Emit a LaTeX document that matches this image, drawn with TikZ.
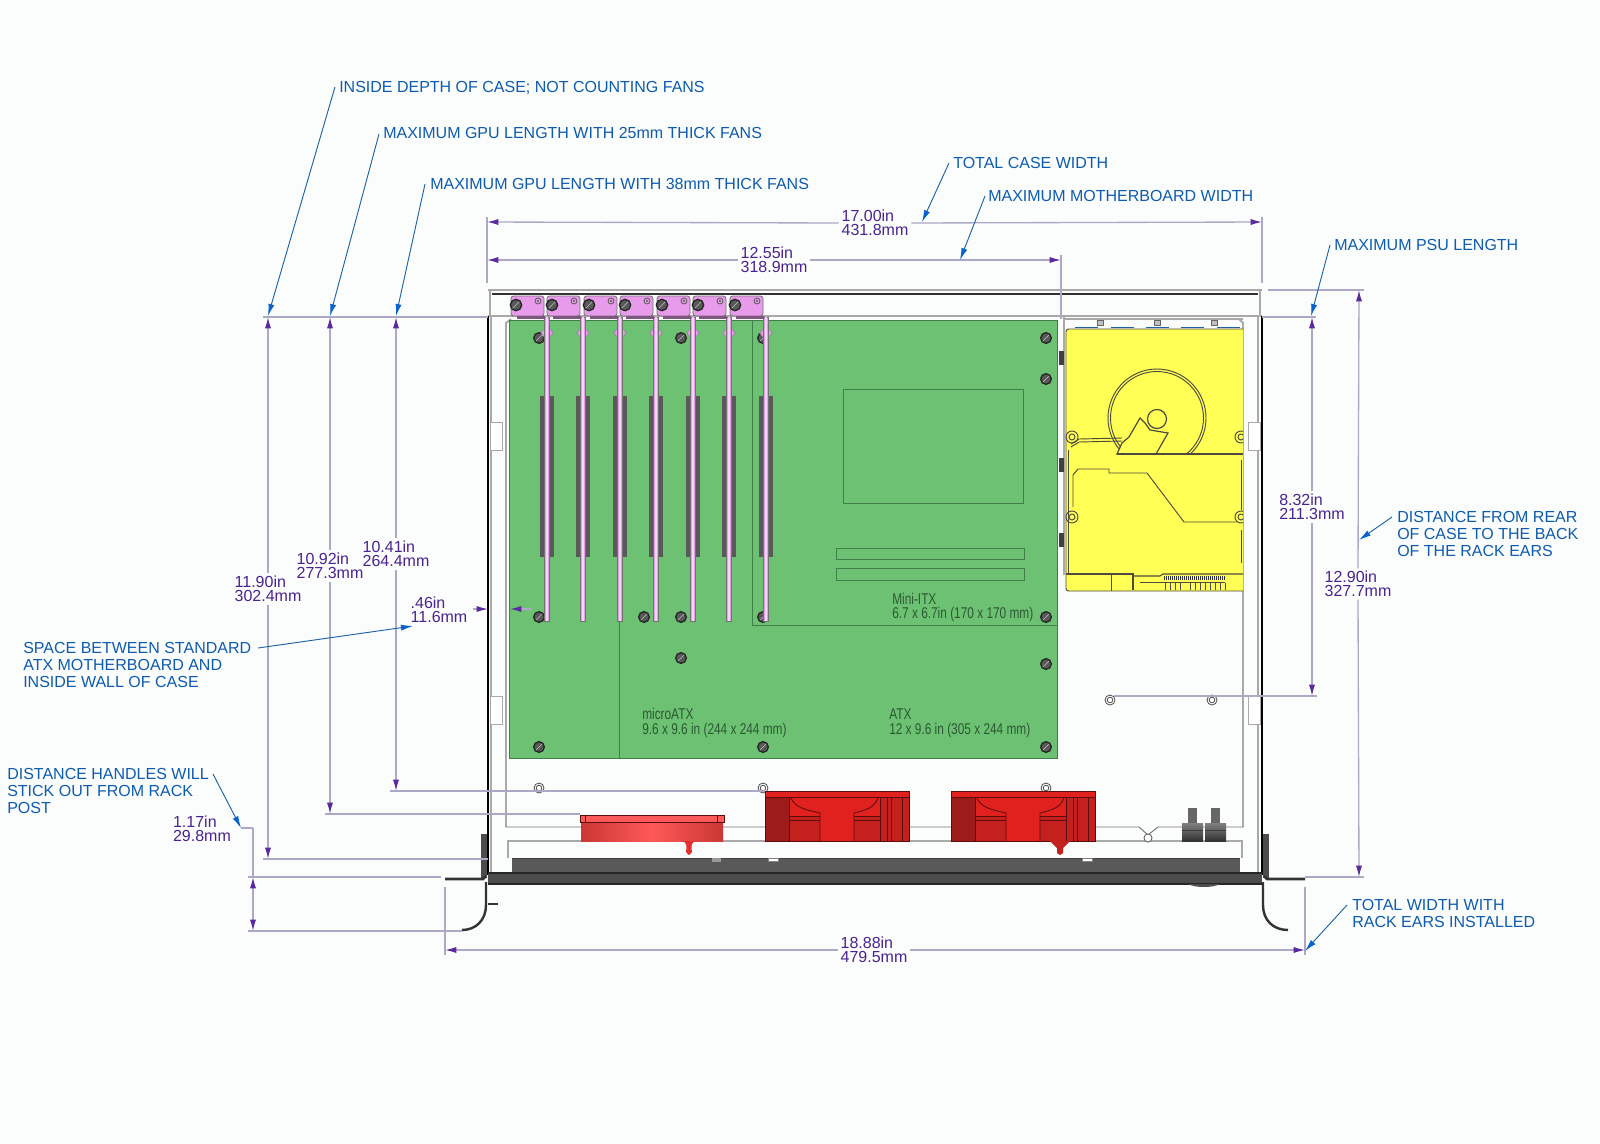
\documentclass[tikz,border=0pt]{standalone}
\usepackage{fontspec}
\setmainfont{Liberation Sans}
\newfontfamily\boardfont[FakeStretch=0.76]{Liberation Sans}
\usetikzlibrary{arrows.meta}

\definecolor{pagebg}{HTML}{FBFDFC}
\definecolor{dimtext}{HTML}{4A2391}
\definecolor{dimline}{HTML}{ACA8C6}
\definecolor{dimtip}{HTML}{5B2A9E}
\definecolor{calltext}{HTML}{0F5BAE}
\definecolor{callline}{HTML}{1E63A5}
\definecolor{calltip}{HTML}{0A62CC}
\definecolor{boardgreen}{HTML}{6CC172}
\definecolor{boardline}{HTML}{3F7F4A}
\definecolor{cardpink}{HTML}{E79BEA}
\definecolor{hddyellow}{HTML}{FFFF55}
\definecolor{fanred}{HTML}{E0211E}
\definecolor{fandark}{HTML}{C4211E}
\definecolor{wallgray}{HTML}{A9A9A9}

\begin{document}
\begin{tikzpicture}[x=0.75pt,y=-0.75pt]

  % Set up styles for the drawing
  \tikzset{
      dimlabel/.style={align=left, text=dimtext, font=\fontsize{12}{10.2}\selectfont, inner sep=2pt},
      calllabel/.style={align=left, text=calltext, font=\fontsize{12}{12.9}\selectfont, anchor=north west, inner sep=0pt},
      boardlabel/.style={align=left, text=boardline!70!black, font=\boardfont\fontsize{11.7}{11}\selectfont, anchor=west, inner sep=0pt},
      dimrule/.style={draw=dimline, line width=1pt},
      dimend/.style={dimrule, -{Latex[length=8.5pt,width=4.6pt,color=dimtip]}},
      dimboth/.style={dimrule, {Latex[length=8.5pt,width=4.6pt,color=dimtip]}-{Latex[length=8.5pt,width=4.6pt,color=dimtip]}},
      extrule/.style={draw=dimline, line width=0.8pt},
      leader/.style={draw=callline, line width=0.7pt, -{Latex[length=9pt,width=4.6pt,color=calltip]}},
      screw/.style={circle, draw=black!85, fill=black!65, line width=1pt, minimum size=8pt, inner sep=0pt,
          path picture={\draw[black!25, line width=0.5pt] (path picture bounding box.south west) -- (path picture bounding box.north east);}},
      ring/.style={draw=black!70, line width=0.6pt, fill=white},
      hddline/.style={draw=black!80!yellow, line width=0.7pt}
  }

  \useasboundingbox[fill=pagebg] (0,0) rectangle (1600,1143);

  % Case walls and top rail
  \draw[wallgray, line width=2pt] (488,290) -- (1262,290);
  \draw[black!80, line width=0.8pt] (492,294) -- (1258,294);
  \draw[wallgray, line width=1.4pt] (488,316) -- (1262,316);
  \draw[wallgray, line width=1.6pt] (490,290) -- (490,316) (1260,290) -- (1260,316);
  \draw[black, line width=2.2pt] (488,316) -- (488,875);
  \draw[wallgray, line width=1.4pt] (491,316) -- (491,875);
  \draw[black, line width=2.2pt] (1262,316) -- (1262,875);
  \draw[wallgray, line width=1.4pt] (1258,316) -- (1258,875);
  \draw[wallgray, line width=1.4pt] (511,319) -- (506,323) -- (506,827);
  \draw[wallgray, line width=1.4pt] (1239,319) -- (1243,323) -- (1243,827);
  % side notches
  \foreach \y in {422, 696} {
      \draw[wallgray, fill=white, line width=0.7pt] (490,\y) rectangle (502,\y+28);
      \draw[wallgray, fill=white, line width=0.7pt] (1248,\y) rectangle (1260,\y+28);
  }

  % Motherboard
  \fill[boardgreen] (509,320) rectangle (1057,758);
  \draw[boardline, line width=0.7pt] (509,320) rectangle (1057,758);
  \draw[boardline, line width=0.6pt] (619,317) -- (619,758);
  \draw[boardline, line width=0.6pt] (752,320) -- (752,625) -- (1057,625);
  \draw[boardline, line width=0.6pt] (843,389) rectangle (1023,503);
  \draw[boardline, line width=0.6pt] (836,548) rectangle (1024,559);
  \draw[boardline, line width=0.6pt] (836,568) rectangle (1024,580);

  % Slots
  \foreach \x in {547, 583, 620, 656, 693, 729, 766} {
      \fill[black!65] (\x-7,396) rectangle (\x+7,557);
  }

  % Screws on the board
  \foreach \x/\y [count=\n] in {539/338, 681/338, 763/338, 1046/338, 1046/379,
      539/617, 644/617, 681/617, 763/617, 1046/617, 681/658, 1046/664,
      539/747, 763/747, 1046/747} {
      \node[screw] (hole\n) at (\x,\y) {};
  }

  % Cards and their brackets
  \foreach \x in {547, 583, 620, 656, 693, 729, 766} {
      \draw[black!45, fill=cardpink, line width=0.5pt] (\x,333) ellipse (6 and 4);
      \draw[black!55, fill=cardpink, line width=0.6pt] (\x-2.5,317) rectangle (\x+2.5,621);
      \fill[white!60!cardpink] (\x-0.8,317) rectangle (\x+0.8,621);
      \draw[black!55, fill=cardpink, line width=0.6pt, rounded corners=2pt]
          (\x-36,316) -- (\x-36,296) -- (\x-3,296) -- (\x-3,316) -- cycle;
      \fill[black!45!cardpink] (\x-30,316) rectangle (\x-2,318.5);
      \draw[black!65, line width=0.6pt] (\x-9,301) circle (3);
      \fill[black!65] (\x-9,301) circle (1.2);
      \node[screw, minimum size=8.5pt] (tab\x) at (\x-31,305) {};
  }

  % Board texts
  \node[boardlabel] (mininame) at (892,599) {Mini-ITX};
  \node[boardlabel] (minisize) at (892,614) {6.7 x 6.7in (170 x 170 mm)};
  \node[boardlabel] (micname) at (642,714) {microATX};
  \node[boardlabel] (micsize) at (642,730) {9.6 x 9.6 in (244 x 244 mm)};
  \node[boardlabel] (atxname) at (889,714) {ATX};
  \node[boardlabel] (atxsize) at (889,730) {12 x 9.6 in (305 x 244 mm)};

  % Drive cage
  \draw[wallgray, line width=1.2pt] (1064,319) -- (1243,319);
  \draw[wallgray, line width=1.4pt] (1064,317) -- (1064,575);
  \foreach \x in {1075, 1111, 1146, 1181, 1217} {
      \draw[callline, line width=0.8pt] (\x,327.5) -- (\x+23,327.5);
  }
  \foreach \x in {1100, 1157, 1214} {
      \draw[black!60, fill=black!25, line width=0.5pt] (\x-3,320) rectangle (\x+3,325);
  }
  \foreach \y in {358, 465, 540} {
      \fill[black!75] (1059,\y-7) rectangle (1064,\y+7);
  }

  % Hard drive
  \draw[hddline, fill=hddyellow, rounded corners=2pt] (1243,329) -- (1066,329) -- (1066,591) -- (1243,591);
  \begin{scope}
      \clip (1100,360) rectangle (1243,454);
      \draw[hddline] (1157,418) circle (49);
      \draw[hddline] (1157,418) circle (46.5);
  \end{scope}
  \draw[hddline, fill=hddyellow, line width=0.9pt] (1117,454) -- (1122,443) -- (1129,437) -- (1140,418) -- (1145,423) -- (1150,430) -- (1168,433) -- (1156,454) -- cycle;
  \draw[hddline, line width=0.9pt] (1157,419) circle (9.5);
  \draw[hddline, line width=1.2pt] (1117,454) -- (1243,454);
  \draw[hddline] (1071,444) -- (1079,439) -- (1122,438);
  \draw[hddline] (1071,447) -- (1079,442) -- (1122,441);
  \draw[hddline] (1073,507) -- (1073,475) -- (1078,469) -- (1109,469) -- (1109,473) -- (1147,473) -- (1184,522) -- (1237,522);
  \draw[hddline] (1068,450) -- (1068,574);
  \draw[hddline] (1241,460) -- (1241,510) (1241,530) -- (1241,563);
  \begin{scope}
      \clip (1060,420) rectangle (1243,530);
      \foreach \x/\y in {1072/437, 1072/517, 1241/437, 1241/517} {
          \draw[hddline] (\x,\y) circle (6);
          \draw[hddline] (\x,\y) circle (3);
      }
  \end{scope}
  % connector along the edge
  \draw[hddline, line width=0.8pt] (1066,574) -- (1133,574) -- (1133,590);
  \draw[hddline] (1111,574) -- (1111,591);
  \draw[hddline, line width=0.8pt] (1133,576) -- (1160,576) -- (1163,574) -- (1243,574);
  \draw[hddline] (1140,582) -- (1225,582);
  \foreach \x in {1164,1166,...,1224} {
      \draw[black!80, line width=0.6pt] (\x,575.5) -- (\x,580);
  }
  \foreach \x in {1165,1170,1175,1180, 1190,1195,1200,1205,1210,1215,1220,1225} {
      \draw[black!70, line width=0.6pt] (\x,583) -- (\x,590);
  }

  % Mounting rings
  \foreach \x/\y in {539/788, 763/788, 1046/788, 1110/700, 1212/700} {
      \draw[ring] (\x,\y) circle (5);
      \draw[ring] (\x,\y) circle (2.8);
  }

  % Front inner lines
  \draw[black!55, line width=0.7pt] (506,827) -- (1139,827) -- (1148,835) -- (1158,827) -- (1243,827);
  \draw[wallgray, line width=1.2pt] (508,858) -- (508,841) -- (1242,841) -- (1242,858);

  % Fans
  \foreach \x in {765, 951} {
      \fill[fanred] (\x,791) rectangle (\x+144,841);
      \fill[fandark!80!black] (\x,797) rectangle (\x+24,841);
      \fill[fandark] (\x+24,816) rectangle (\x+55,841);
      \fill[fandark] (\x+89,816) rectangle (\x+115,841);
      \fill[fandark] (\x+115,797) rectangle (\x+144,841);
      \draw[black!60!fanred, line width=0.7pt] (\x,791) rectangle (\x+144,841);
      \draw[black!60!fanred, line width=0.6pt] (\x,797) -- (\x+144,797);
      \draw[black!60!fanred, line width=0.7pt] (\x+24,797) -- (\x+24,841);
      \draw[black!60!fanred, line width=0.6pt] (\x+26,798) .. controls (\x+30,808) and (\x+42,810) .. (\x+55,813) -- (\x+55,841);
      \draw[black!60!fanred, line width=0.6pt] (\x+24,816) -- (\x+55,816) (\x+24,820) -- (\x+55,820);
      \draw[black!60!fanred, line width=0.6pt] (\x+113,798) .. controls (\x+109,808) and (\x+101,810) .. (\x+89,813) -- (\x+89,841);
      \draw[black!60!fanred, line width=0.6pt] (\x+89,816) -- (\x+115,816) (\x+89,820) -- (\x+115,820);
      \draw[black!60!fanred, line width=0.6pt] (\x+115,797) -- (\x+115,841) (\x+122,797) -- (\x+122,841) (\x+126,797) -- (\x+126,841) (\x+137,797) -- (\x+137,841);
  }
  \fill[fandark] (1050,841) -- (1070,841) -- (1063,848) -- (1063,853) -- (1060,855) -- (1057,853) -- (1057,848) -- cycle;
  % low profile fan
  \shade[left color=fandark!90!white, right color=fandark!90!white, middle color=red!65!white] (581,822) rectangle (723,841);
  \fill[red!65!white] (580,815) rectangle (724,822);
  \draw[black!60!fanred, line width=0.6pt] (580,815) rectangle (724,822) (585,815) -- (585,822) (717,815) -- (717,822);
  \fill[red!80!white!90!black] (681,841) .. controls (687,842) and (687,845) .. (686,852) -- (689,855) -- (692,852) .. controls (691,845) and (691,842) .. (697,841) -- cycle;

  % Standoffs
  \foreach \x in {1182, 1205} {
      \fill[black!60] (\x+6,808) rectangle (\x+15,823);
      \shade[top color=black!50, bottom color=black!80] (\x,823) rectangle (\x+21,841);
      \draw[black!75, line width=0.4pt] (\x,830) -- (\x+21,830);
  }
  \draw[black!60, fill=white, line width=0.7pt] (1148,838) circle (4);

  % Front panel, ears and handles
  \fill[black!65] (512,858) rectangle (1240,873);
  \draw[black!75, line width=1pt] (512,858.5) -- (1240,858.5);
  \fill[black!70] (488,873) rectangle (1262,884);
  \draw[black!85, line width=1pt] (488,873) -- (1262,873) (488,884) -- (1262,884);
  \fill[black!70] (1188,884) .. controls (1195,888) and (1213,888) .. (1220,884) -- cycle;
  \draw[black!40, fill=black!40] (712,858) rectangle (720,861);
  \draw[black!50, fill=white, line width=0.3pt] (768,858) rectangle (778,861);
  \draw[black!50, fill=white, line width=0.3pt] (1082,858) rectangle (1092,861);
  \fill[black!70] (481,834) rectangle (487,878);
  \fill[black!70] (1263,834) rectangle (1269,878);
  \draw[black!80, line width=2pt] (445,879) -- (483,879) -- (486,876);
  \draw[black!80, line width=2pt] (1305,879) -- (1267,879) -- (1264,876);
  \draw[black!80, line width=1.8pt] (486,882) -- (486,905) .. controls (486,920) and (476,930) .. (462,930);
  \draw[black!80, line width=1.8pt] (1263,882) -- (1263,905) .. controls (1263,920) and (1273,930) .. (1288,930);
  \draw[black!80, line width=1.5pt] (488,904) -- (498,904);

  % Extension lines
  \draw[extrule] (263,317) -- (488,317);
  \draw[extrule] (263,859) -- (488,859);
  \draw[extrule] (325,814) -- (580,814);
  \draw[extrule] (390,791) -- (765,791);
  \draw[extrule] (248,877) -- (441,877);
  \draw[extrule] (248,931) -- (462,931);
  \draw[extrule] (241,828) -- (253,828);
  \draw[extrule] (487,217) -- (487,283);
  \draw[extrule] (1262,217) -- (1262,283);
  \draw[extrule] (1061,255) -- (1061,319);
  \draw[extrule] (445,887) -- (445,955);
  \draw[extrule] (1305,887) -- (1305,955);
  \draw[extrule] (1268,290) -- (1364,290);
  \draw[extrule] (1262,317) -- (1316,317);
  \draw[extrule] (1114,696) -- (1317,696);
  \draw[extrule] (1305,877) -- (1364,877);

  % Dimension values
  \node[dimlabel] (depthval) at (268,589) {11.90in\\302.4mm};
  \node[dimlabel] (gpuaval) at (330,566) {10.92in\\277.3mm};
  \node[dimlabel] (gpubval) at (396,554) {10.41in\\264.4mm};
  \node[dimlabel] (gapval) at (439,610) {.46in\\11.6mm};
  \node[dimlabel] (handleval) at (202,829) {1.17in\\29.8mm};
  \node[dimlabel] (caseval) at (875,223) {17.00in\\431.8mm};
  \node[dimlabel] (boardval) at (774,260) {12.55in\\318.9mm};
  \node[dimlabel] (psuval) at (1312,507) {8.32in\\211.3mm};
  \node[dimlabel] (rearval) at (1358,584) {12.90in\\327.7mm};
  \node[dimlabel] (earsval) at (874,950) {18.88in\\479.5mm};

  % Dimension lines, broken at their values
  \draw[dimend] (depthval.north) -- (268,317);
  \draw[dimend] (depthval.south) -- (268,859);
  \draw[dimend] (gpuaval.north) -- (330,317);
  \draw[dimend] (gpuaval.south) -- (330,814);
  \draw[dimend] (gpubval.north) -- (396,317);
  \draw[dimend] (gpubval.south) -- (396,791);
  \draw[dimend] (psuval.north) -- (1312,317);
  \draw[dimend] (psuval.south) -- (1312,696);
  \draw[dimend] (rearval.north) -- (1359,290);
  \draw[dimend] (rearval.south) -- (1359,877);
  \draw[dimend] (caseval.west) -- (487,222);
  \draw[dimend] (caseval.east) -- (1262,222);
  \draw[dimend] (boardval.west) -- (487,260);
  \draw[dimend] (boardval.east) -- (1061,260);
  \draw[dimend] (earsval.west) -- (445,950);
  \draw[dimend] (earsval.east) -- (1305,950);
  \draw[dimend] (473,609) -- (488,609);
  \draw[dimend] (532,609) -- (510,609);
  \draw[dimboth] (253,877) -- (253,931);
  \draw[dimrule] (253,828) -- (253,877);

  % Callouts
  \node[calllabel] (insidenote) at (339,81) {INSIDE DEPTH OF CASE; NOT COUNTING FANS};
  \node[calllabel] (gpuanote) at (383,127) {MAXIMUM GPU LENGTH WITH 25mm THICK FANS};
  \node[calllabel] (gpubnote) at (430,178) {MAXIMUM GPU LENGTH WITH 38mm THICK FANS};
  \node[calllabel] (casenote) at (953,157) {TOTAL CASE WIDTH};
  \node[calllabel] (boardnote) at (988,190) {MAXIMUM MOTHERBOARD WIDTH};
  \node[calllabel] (psunote) at (1334,239) {MAXIMUM PSU LENGTH};
  \node[calllabel] (rearnote) at (1397,511) {DISTANCE FROM REAR\\OF CASE TO THE BACK\\OF THE RACK EARS};
  \node[calllabel] (earsnote) at (1352,899) {TOTAL WIDTH WITH\\RACK EARS INSTALLED};
  \node[calllabel] (gapnote) at (23,642) {SPACE BETWEEN STANDARD\\ATX MOTHERBOARD AND\\INSIDE WALL OF CASE};
  \node[calllabel] (handlenote) at (7,768) {DISTANCE HANDLES WILL\\STICK OUT FROM RACK\\POST};

  \coordinate (insidefrom) at (335,87);
  \coordinate (gpuafrom) at (379,134);
  \coordinate (gpubfrom) at (425,184);
  \coordinate (casefrom) at (949,163);
  \coordinate (boardfrom) at (985,196);
  \coordinate (psufrom) at (1330,245);
  \coordinate (rearfrom) at (1392,517);
  \coordinate (earsfrom) at (1347,905);
  \coordinate (gapfrom) at (258,648);
  \coordinate (handlefrom) at (213,774);

  \draw[leader] (insidefrom) -- (268,316);
  \draw[leader] (gpuafrom) -- (330,316);
  \draw[leader] (gpubfrom) -- (396,316);
  \draw[leader] (casefrom) -- (922,222);
  \draw[leader] (boardfrom) -- (960,260);
  \draw[leader] (psufrom) -- (1311,316);
  \draw[leader] (rearfrom) -- (1359,540);
  \draw[leader] (earsfrom) -- (1305,951);
  \draw[leader] (gapfrom) -- (413,626);
  \draw[leader] (handlefrom) -- (241,828);

\end{tikzpicture}
\end{document}
